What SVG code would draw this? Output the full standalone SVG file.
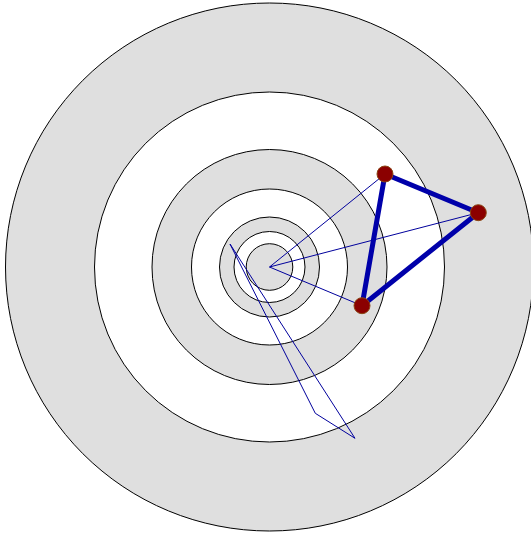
<svg xmlns="http://www.w3.org/2000/svg" width="531" height="534" viewBox="0 0 531 534">
<style>
.ring{stroke:#000;stroke-width:1}
.g{fill:#dfdfdf}
.w{fill:#fff}
.thin{stroke:#00009c;stroke-width:1;fill:none}
.thick{stroke:#0000aa;stroke-width:5;fill:none;stroke-linecap:round}
.node{fill:#8b0000;stroke:#8b4513;stroke-width:1}
</style>
<rect width="531" height="534" fill="#fff"/>
<g id="rings">
<circle class="ring g" cx="269.5" cy="267" r="264"/>
<circle class="ring w" cx="269.5" cy="267" r="175"/>
<circle class="ring g" cx="269.5" cy="267" r="117.5"/>
<circle class="ring w" cx="269.5" cy="267" r="78"/>
<circle class="ring g" cx="269.5" cy="267" r="50"/>
<circle class="ring w" cx="269.5" cy="267" r="35.5"/>
<circle class="ring g" cx="269.5" cy="267" r="23.3"/>
</g>
<g id="connectors">
<polygon class="thin" points="230,244 315.3,413.3 355,438.3"/>
<line class="thin" x1="269.5" y1="267" x2="385" y2="174"/>
<line class="thin" x1="269.5" y1="267" x2="478.3" y2="212.7"/>
<line class="thin" x1="269.5" y1="267" x2="362" y2="305.7"/>
<line class="thick" x1="385" y1="174" x2="478.3" y2="212.7"/>
<line class="thick" x1="478.3" y1="212.7" x2="362" y2="305.7"/>
<line class="thick" x1="362" y1="305.7" x2="385" y2="174"/>
</g>
<g id="n1"><circle class="node" cx="385" cy="174" r="8"/></g>
<g id="n2"><circle class="node" cx="478.3" cy="212.7" r="8"/></g>
<g id="n3"><circle class="node" cx="362" cy="305.7" r="8"/></g>
</svg>
